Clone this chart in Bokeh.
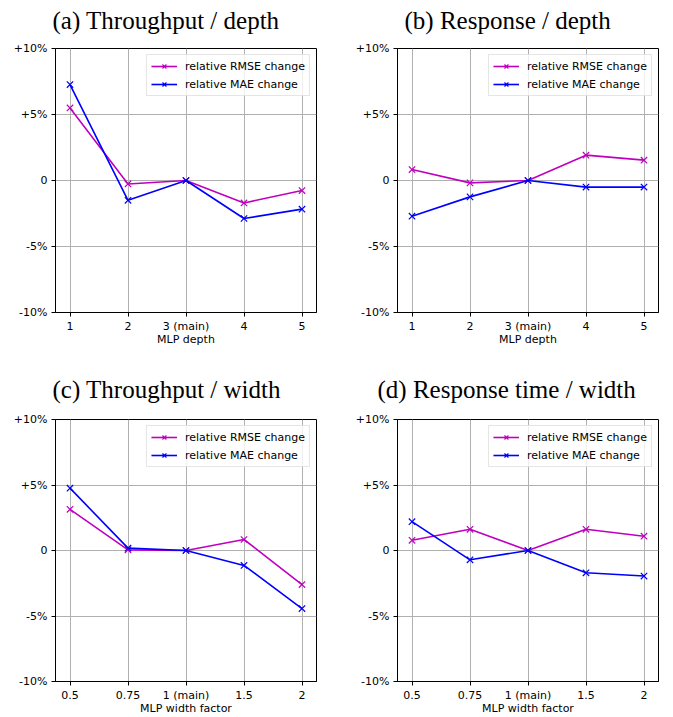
from bokeh.plotting import figure
from bokeh.layouts import gridplot
from bokeh.models import FixedTicker, Title
from bokeh.embed import file_html
from bokeh.resources import INLINE

# ---- data ----
depth_labels = ["1", "2", "3 (main)", "4", "5"]
width_labels = ["0.5", "0.75", "1 (main)", "1.5", "2"]
y_ticks = [-10, -5, 0, 5, 10]
y_tick_labels = ["-10%", "-5%", "0", "+5%", "+10%"]

tp_depth_rmse = [5.5, -0.26, 0.0, -1.7, -0.76]
tp_depth_mae = [7.27, -1.5, 0.0, -2.88, -2.17]
rt_depth_rmse = [0.83, -0.18, 0.0, 1.92, 1.54]
rt_depth_mae = [-2.7, -1.24, 0.0, -0.5, -0.5]
tp_width_rmse = [3.14, 0.05, 0.0, 0.84, -2.6]
tp_width_mae = [4.76, 0.18, 0.0, -1.14, -4.43]
rt_width_rmse = [0.78, 1.62, 0.0, 1.62, 1.09]
rt_width_mae = [2.2, -0.71, 0.0, -1.7, -1.95]

titles = ["(a) Throughput / depth", "(b) Response / depth",
          "(c) Throughput / width", "(d) Response time / width"]
x_axis_labels = ["MLP depth", "MLP depth", "MLP width factor", "MLP width factor"]

RMSE_COLOR = "#bf00bf"
MAE_COLOR = "#0000ff"
FONT = "DejaVu Sans"


def make_panel(title, title_offset, gap, xlabels, xaxis_label, rmse, mae,
               width, height, bl, br, bt, bb):
    xs = list(range(len(xlabels)))
    p = figure(width=width, height=height, output_backend="svg",
               toolbar_location=None, x_range=(-0.25, len(xlabels) - 0.75),
               y_range=(-10, 10), min_border_left=bl, min_border_right=br,
               min_border_top=bt, min_border_bottom=bb, title=None,
               background_fill_color="white", border_fill_color="white")
    xax = p.below[0]
    yax = p.left[0]

    # white (invisible) spacer between the frame and the caption
    spacer = Title(text=".", text_font_size="6px", text_color="white",
                   standoff=gap)
    p.add_layout(spacer, "above")
    real = Title(text=title, text_font="Liberation Serif",
                 text_font_size="25px", text_font_style="normal",
                 text_color="black", align="left", offset=title_offset,
                 standoff=0)
    p.add_layout(real, "above")

    p.outline_line_color = "black"
    p.outline_line_width = 1
    p.outline_line_alpha = 1

    xax.ticker = FixedTicker(ticks=xs)
    xax.major_label_overrides = {i: l for i, l in zip(xs, xlabels)}
    yax.ticker = FixedTicker(ticks=y_ticks)
    yax.major_label_overrides = {t: l for t, l in zip(y_ticks, y_tick_labels)}
    xax.axis_label = xaxis_label
    for ax in (xax, yax):
        ax.axis_line_color = "black"
        ax.major_tick_line_color = "black"
        ax.major_tick_out = 4
        ax.major_tick_in = 0
        ax.minor_tick_line_color = None
        ax.major_label_text_font = FONT
        ax.major_label_text_font_size = "11px"
        ax.major_label_text_color = "black"
        ax.axis_label_text_font = FONT
        ax.axis_label_text_font_size = "11px"
        ax.axis_label_text_font_style = "normal"
        ax.axis_label_text_color = "black"
        ax.axis_label_standoff = -3
    xax.major_label_standoff = 3
    yax.major_label_standoff = 4

    p.xgrid.ticker = FixedTicker(ticks=xs)
    p.ygrid.ticker = FixedTicker(ticks=y_ticks)
    p.grid.grid_line_color = "#b0b0b0"
    p.grid.grid_line_width = 1

    p.line(xs, rmse, color=RMSE_COLOR, line_width=1.6,
           legend_label="relative RMSE change")
    p.scatter(xs, rmse, marker="x", size=9, color=RMSE_COLOR, line_width=1.2,
              legend_label="relative RMSE change")
    p.line(xs, mae, color=MAE_COLOR, line_width=1.6,
           legend_label="relative MAE change")
    p.scatter(xs, mae, marker="x", size=9, color=MAE_COLOR, line_width=1.2,
              legend_label="relative MAE change")

    lg = p.legend[0]
    lg.location = "top_right"
    lg.margin = 6
    lg.padding = 4
    lg.spacing = 4
    lg.label_height = 14
    lg.glyph_height = 14
    lg.glyph_width = 26
    lg.label_standoff = 8
    lg.label_text_font = FONT
    lg.label_text_font_size = "11px"
    lg.label_text_color = "black"
    lg.border_line_color = "#cccccc"
    lg.border_line_width = 1
    lg.background_fill_alpha = 0.8
    return p


pa = make_panel(titles[0], -3, 9, depth_labels, x_axis_labels[0],
                tp_depth_rmse, tp_depth_mae, 340, 369, 55, 24, 48, 57)
pb = make_panel(titles[1], 7, 9, depth_labels, x_axis_labels[1],
                rt_depth_rmse, rt_depth_mae, 333, 369, 57, 15, 48, 57)
pc = make_panel(titles[2], -3, 11, width_labels, x_axis_labels[2],
                tp_width_rmse, tp_width_mae, 340, 348, 55, 24, 50, 35)
pd = make_panel(titles[3], -20, 11, width_labels, x_axis_labels[3],
                rt_width_rmse, rt_width_mae, 333, 348, 57, 15, 50, 35)

grid = gridplot([[pa, pb], [pc, pd]], toolbar_location=None)

open("out.html", "w").write(file_html(grid, INLINE))
